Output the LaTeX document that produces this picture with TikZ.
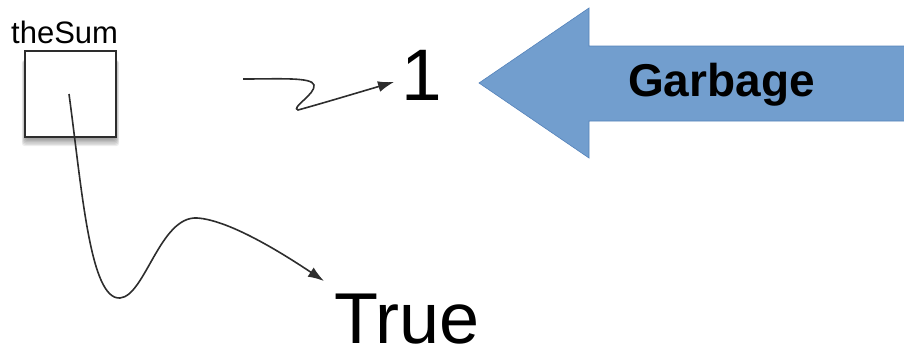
\documentclass[tikz,border=0pt]{standalone}
\usepackage{fontspec}
\setmainfont{Liberation Sans}
\usetikzlibrary{arrows.meta}
\definecolor{arrowblue}{RGB}{114,158,206}
\definecolor{arrowedge}{RGB}{84,130,186}
\definecolor{inkgray}{RGB}{45,45,45}
\tikzset{
  lbl/.style={inner sep=0pt, anchor=base west, text=black},
  varbox/.style={draw=inkgray, line width=1.4pt, fill=white, minimum width=91pt, minimum height=86pt, inner sep=0pt},
  ref/.style={draw=inkgray, line width=1.6pt, -{Latex[length=16pt,width=11pt]}},
}
\begin{document}
\begin{tikzpicture}[x=1pt,y=-1pt]
\useasboundingbox (0,0) rectangle (904,351);
% soft shadow under the box
\foreach \i in {1,...,7}{
  \fill[black, opacity=0.07, rounded corners=3pt] (26-\i*0.6,60) rectangle (115+\i*0.6,137+\i*1.3);
}
% variable box
\node[lbl, font=\fontsize{31}{31}\selectfont] (name) at (11,43) {theSum};
\node[varbox] (box) at (70.5,94) {};
% values
\node[lbl, font=\fontsize{73}{73}\selectfont] (one) at (401,100) {1};
\node[lbl, font=\fontsize{72}{72}\selectfont] (true) at (334,343) {True};
% connectors
\coordinate (s1) at (243,79);
\coordinate (e1) at (394,82);
\coordinate (e2) at (324,281);
\draw[ref] (s1) .. controls (280,79) and (312,77) .. (314,85)
   .. controls (316,94) and (290,108) .. (298,110)
   .. controls (320,104) and (360,92) .. (e1);
\draw[ref] (69,94) .. controls (82,190) and (90,300) .. (120,298)
   .. controls (145,296) and (160,216) .. (197,218)
   .. controls (230,220) and (285,255) .. (e2);
% garbage arrow
\draw[fill=arrowblue, draw=arrowedge, line width=0.6pt]
  (479,83) -- (589,8) -- (589,46) -- (905,46) -- (905,121) -- (589,121) -- (589,158) -- cycle;
\node[lbl, font=\fontsize{46}{46}\selectfont\bfseries] (garbage) at (628,96) {Garbage};
\end{tikzpicture}
\end{document}
